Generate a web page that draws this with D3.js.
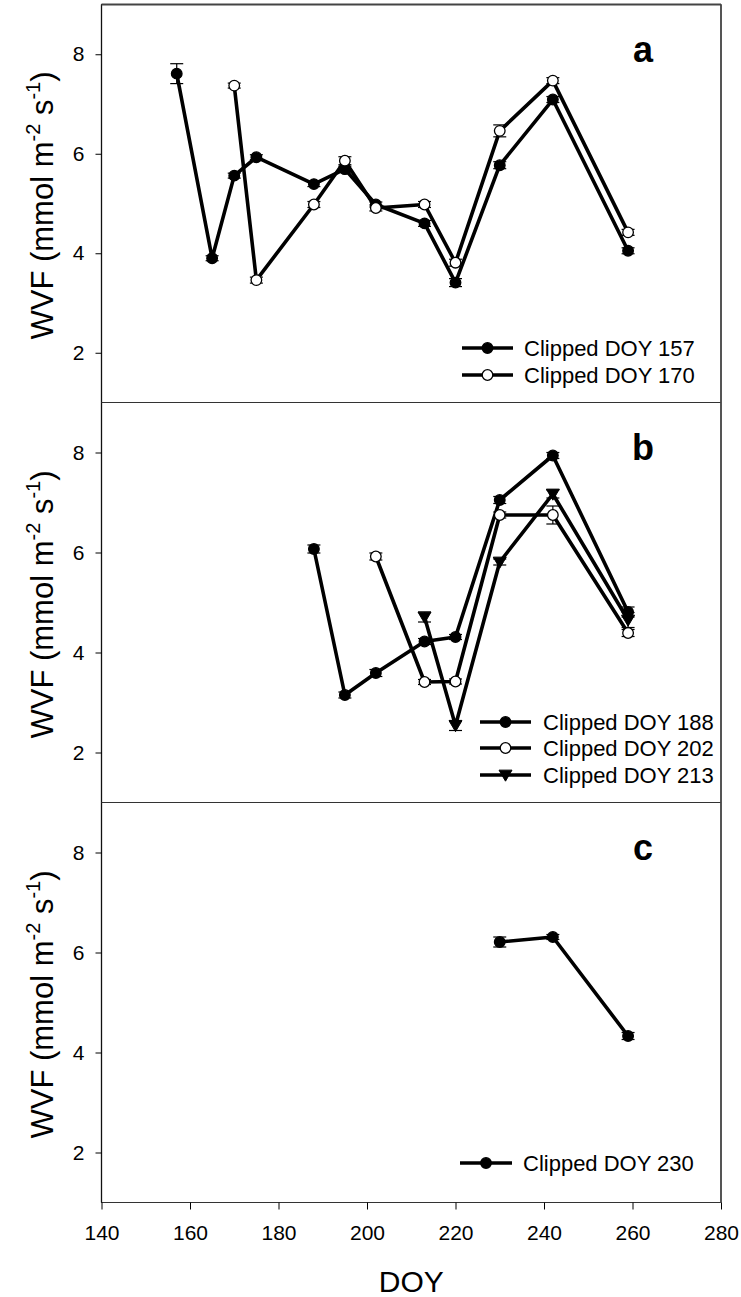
<!DOCTYPE html>
<html>
<head>
<meta charset="utf-8">
<script src="https://cdn.jsdelivr.net/npm/d3@7"></script>
<style>
  html, body { margin: 0; padding: 0; background: #fff; }
  svg { display: block; }
  text { font-family: "Liberation Sans", Arial, sans-serif; fill: #000; }
</style>
</head>
<body>
<div id="chart"></div>
<script>
// ---------------- data ----------------
const xTicks = [140, 160, 180, 200, 220, 240, 260, 280];
const yTicks = [2, 4, 6, 8];
const panelLabels = ["a", "b", "c"];

// panel a
const doyA157 = [157, 165, 170, 175, 188, 195, 202, 213, 220, 230, 242, 259];
const wvfA157 = [7.61, 3.90, 5.56, 5.93, 5.39, 5.69, 4.98, 4.60, 3.41, 5.77, 7.09, 4.05];
const seA157  = [0.20, 0.05, 0.05, 0.05, 0.05, 0.06, 0.05, 0.06, 0.08, 0.07, 0.06, 0.06];
const doyA170 = [170, 175, 188, 195, 202, 213, 220, 230, 242, 259];
const wvfA170 = [7.37, 3.46, 4.98, 5.86, 4.91, 4.98, 3.81, 6.46, 7.47, 4.42];
const seA170  = [0.05, 0.06, 0.06, 0.08, 0.06, 0.06, 0.07, 0.12, 0.06, 0.06];

// panel b
const doyB188 = [188, 195, 202, 213, 220, 230, 242, 259];
const wvfB188 = [6.07, 3.15, 3.59, 4.22, 4.31, 7.05, 7.94, 4.81];
const seB188  = [0.08, 0.06, 0.07, 0.06, 0.05, 0.07, 0.06, 0.10];
const doyB202 = [202, 213, 220, 230, 242, 259];
const wvfB202 = [5.92, 3.41, 3.42, 6.75, 6.75, 4.39];
const seB202  = [0.07, 0.05, 0.05, 0.06, 0.18, 0.07];
const doyB213 = [213, 220, 230, 242, 259];
const wvfB213 = [4.71, 2.54, 5.81, 7.17, 4.65];
const seB213  = [0.10, 0.10, 0.06, 0.08, 0.15];

// panel c
const doyC230 = [230, 242, 259];
const wvfC230 = [6.21, 6.31, 4.33];
const seC230  = [0.10, 0.05, 0.07];

const legendA = ["Clipped DOY 157", "Clipped DOY 170"];
const legendB = ["Clipped DOY 188", "Clipped DOY 202", "Clipped DOY 213"];
const legendC = ["Clipped DOY 230"];

// -------------- assemble --------------
const mk = (doy, wvf, se, sym, name) => ({ sym, name, pts: doy.map((d, i) => ({ x: d, y: wvf[i], e: se[i] })) });
const panels = [
  { label: panelLabels[0], series: [mk(doyA157, wvfA157, seA157, "filled", legendA[0]), mk(doyA170, wvfA170, seA170, "open", legendA[1])] },
  { label: panelLabels[1], series: [mk(doyB188, wvfB188, seB188, "filled", legendB[0]), mk(doyB202, wvfB202, seB202, "open", legendB[1]), mk(doyB213, wvfB213, seB213, "tri", legendB[2])] },
  { label: panelLabels[2], series: [mk(doyC230, wvfC230, seC230, "filled", legendC[0])] }
];

// -------------- layout --------------
const W = 741, H = 1297;
const left = 101.5, right = 721;
const panelTops = [4.5, 402.5, 802.5];
const panelBottoms = [402.5, 802.5, 1202.5];
const legendLayout = [
  { x0: 462, x1: 513, tx: 524, rows: [348, 375] },
  { x0: 480, x1: 531, tx: 543, rows: [722, 748, 775] },
  { x0: 460, x1: 512, tx: 523, rows: [1163] }
];

const svg = d3.select("#chart").append("svg").attr("width", W).attr("height", H);
const x = d3.scaleLinear().domain([140, 280]).range([left, right]);
const font = '"Liberation Sans", Arial, sans-serif';

function drawSymbol(g, sym, cx, cy) {
  if (sym === "tri") {
    const s = 6.5;
    g.append("path")
      .attr("d", `M${cx - s},${cy - s * 0.75} L${cx + s},${cy - s * 0.75} L${cx},${cy + s * 0.95} Z`)
      .attr("fill", "#000").attr("stroke", "#000").attr("stroke-width", 1);
  } else {
    g.append("circle").attr("cx", cx).attr("cy", cy).attr("r", 5.3)
      .attr("fill", sym === "open" ? "#fff" : "#000")
      .attr("stroke", "#000").attr("stroke-width", 1.3);
  }
}

panels.forEach((p, pi) => {
  const top = panelTops[pi], bottom = panelBottoms[pi];
  const y = d3.scaleLinear().domain([1, 9]).range([bottom, top]);
  const g = svg.append("g");

  // frame
  g.append("rect").attr("x", left).attr("y", top).attr("width", right - left).attr("height", bottom - top)
    .attr("fill", "none").attr("stroke", "#333").attr("stroke-width", 1);
  g.append("line").attr("x1", right).attr("x2", right).attr("y1", top).attr("y2", bottom)
    .attr("stroke", "#555").attr("stroke-width", 2);
  g.append("line").attr("x1", left).attr("x2", left).attr("y1", top).attr("y2", bottom)
    .attr("stroke", "#111").attr("stroke-width", 1.3);

  // y axis
  const ya = g.append("g").attr("transform", `translate(${left},0)`)
    .call(d3.axisLeft(y).tickValues(yTicks).tickSize(6).tickPadding(11).tickFormat(d3.format("d")));
  ya.select(".domain").remove();
  ya.selectAll("line").attr("stroke", "#000").attr("stroke-width", 1);
  ya.selectAll("text").attr("font-size", 21).attr("font-family", font).attr("fill", "#000");

  // y title
  const t = g.append("text")
    .attr("transform", `translate(53,${(top + bottom) / 2 + 2}) rotate(-90)`)
    .attr("text-anchor", "middle").attr("font-size", 31).attr("font-family", font);
  t.append("tspan").text("WVF (mmol m");
  t.append("tspan").attr("font-size", 20).attr("dy", -13).text("-2");
  t.append("tspan").attr("dy", 13).text(" s");
  t.append("tspan").attr("font-size", 20).attr("dy", -13).text("-1");
  t.append("tspan").attr("dy", 13).text(")");

  // panel label
  g.append("text").attr("x", 643).attr("y", top + 57).attr("text-anchor", "middle")
    .attr("font-size", 36).attr("font-weight", "bold").attr("font-family", font).text(p.label);

  // series
  const line = d3.line().x(d => x(d.x)).y(d => y(d.y));
  p.series.forEach(s => {
    const sg = g.append("g");
    sg.append("path").attr("d", line(s.pts)).attr("fill", "none")
      .attr("stroke", "#000").attr("stroke-width", 3.6).attr("stroke-linejoin", "round");
    s.pts.forEach(d => {
      const cx = x(d.x), y0 = y(d.y - d.e), y1 = y(d.y + d.e);
      sg.append("line").attr("x1", cx).attr("x2", cx).attr("y1", y0).attr("y2", y1).attr("stroke", "#000").attr("stroke-width", 1.2);
      [y0, y1].forEach(yy => sg.append("line").attr("x1", cx - 6.5).attr("x2", cx + 6.5).attr("y1", yy).attr("y2", yy).attr("stroke", "#000").attr("stroke-width", 1.2));
    });
    s.pts.forEach(d => drawSymbol(sg, s.sym, x(d.x), y(d.y)));
  });

  // legend
  const L = legendLayout[pi];
  p.series.forEach((s, si) => {
    const ry = L.rows[si];
    g.append("line").attr("x1", L.x0).attr("x2", L.x1).attr("y1", ry).attr("y2", ry)
      .attr("stroke", "#000").attr("stroke-width", 3.6);
    drawSymbol(g, s.sym, (L.x0 + L.x1) / 2, ry);
    g.append("text").attr("x", L.tx).attr("y", ry).attr("dy", "0.36em")
      .attr("font-size", 22).attr("font-family", font).text(s.name);
  });

  // x axis on bottom panel
  if (pi === panels.length - 1) {
    const xa = g.append("g").attr("transform", `translate(0,${bottom})`)
      .call(d3.axisBottom(x).tickValues(xTicks).tickSize(7).tickPadding(16).tickFormat(d3.format("d")));
    xa.select(".domain").remove();
    xa.selectAll("line").attr("stroke", "#000").attr("stroke-width", 1);
    xa.selectAll("text").attr("font-size", 21).attr("font-family", font).attr("fill", "#000");
  }
});

// top border of the figure, slightly heavier like the reference
svg.append("line").attr("x1", left).attr("x2", right).attr("y1", panelTops[0]).attr("y2", panelTops[0])
  .attr("stroke", "#444").attr("stroke-width", 2);

svg.append("text").attr("x", (left + right) / 2).attr("y", 1292).attr("text-anchor", "middle")
  .attr("font-size", 30).attr("font-family", font).text("DOY");
</script>
</body>
</html>
